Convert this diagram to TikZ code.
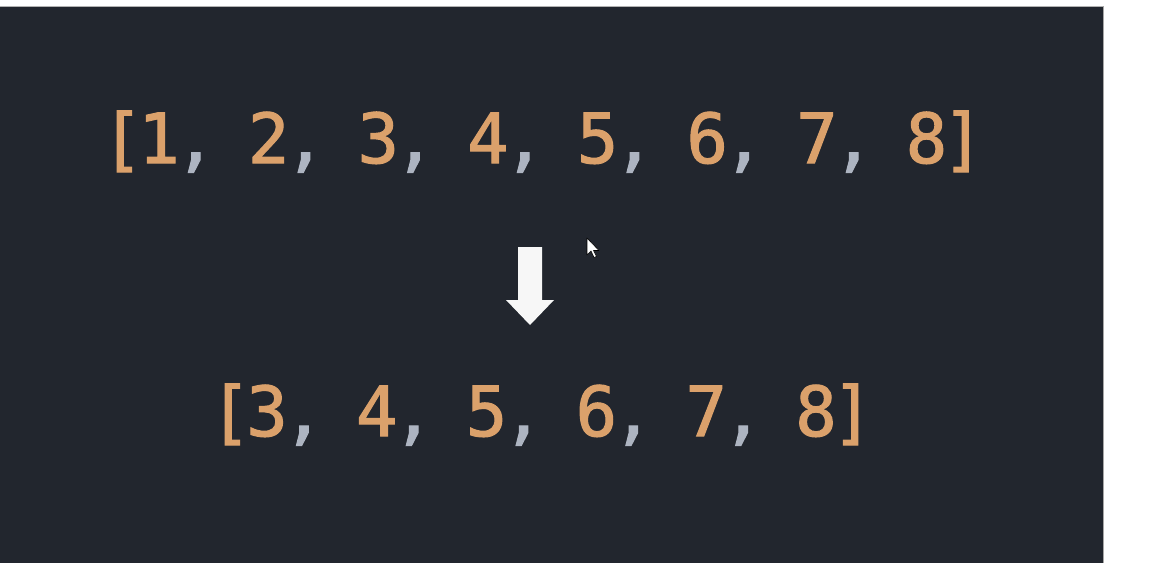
\documentclass[tikz,border=0pt]{standalone}
\usepackage{fontspec}
\newfontfamily\codemono[FakeBold=1.6]{DejaVu Sans Mono}
\definecolor{bgdark}{HTML}{22262E}
\definecolor{numorange}{HTML}{DBA16B}
\definecolor{punctgray}{HTML}{ADB4C1}
\definecolor{arrowwhite}{HTML}{F7F7F7}
\tikzset{
  glyph/.style={inner sep=0pt, outer sep=0pt, anchor=base, font=\codemono\fontsize{69}{72}\selectfont},
  num/.style={glyph, text=numorange},
  pun/.style={glyph, text=punctgray},
}
\begin{document}
\begin{tikzpicture}[x=1pt,y=-1pt]
\useasboundingbox (0,0) rectangle (1153,563);
\fill[white] (0,0) rectangle (1153,563);
\fill[bgdark] (0,6) rectangle (1103,563);
\draw[gray!70, line width=0.8pt] (1103,6) -- (1103,563);
\draw[gray!60, line width=0.6pt] (0,6) -- (1103,6);
% top list
\node[num] (t0) at (122.4,163) {[};
\node[num] (t1) at (159.0,163) {1};
\node[pun] (t2) at (195.5,163) {,};
\node[num] (t4) at (268.6,163) {2};
\node[pun] (t5) at (305.2,163) {,};
\node[num] (t7) at (378.3,163) {3};
\node[pun] (t8) at (414.8,163) {,};
\node[num] (t10) at (487.9,163) {4};
\node[pun] (t11) at (524.5,163) {,};
\node[num] (t13) at (597.6,163) {5};
\node[pun] (t14) at (634.1,163) {,};
\node[num] (t16) at (707.2,163) {6};
\node[pun] (t17) at (743.8,163) {,};
\node[num] (t19) at (816.9,163) {7};
\node[pun] (t20) at (853.4,163) {,};
\node[num] (t22) at (926.5,163) {8};
\node[num] (t23) at (963.1,163) {]};
% bottom list
\node[num] (b0) at (230.4,436) {[};
\node[num] (b1) at (267.0,436) {3};
\node[pun] (b2) at (303.6,436) {,};
\node[num] (b4) at (376.8,436) {4};
\node[pun] (b5) at (413.4,436) {,};
\node[num] (b7) at (486.6,436) {5};
\node[pun] (b8) at (523.2,436) {,};
\node[num] (b10) at (596.4,436) {6};
\node[pun] (b11) at (633.0,436) {,};
\node[num] (b13) at (706.2,436) {7};
\node[pun] (b14) at (742.8,436) {,};
\node[num] (b16) at (816.0,436) {8};
\node[num] (b17) at (852.6,436) {]};
% block arrow
\coordinate (arrowtop) at (530,247);
\coordinate (arrowtip) at (530,325);
\fill[arrowwhite] ([xshift=-12pt]arrowtop) -- ([xshift=12pt]arrowtop)
  -- ([xshift=12pt]arrowtip |- 0,300) -- ([xshift=24pt]arrowtip |- 0,300)
  -- (arrowtip) -- ([xshift=-24pt]arrowtip |- 0,300)
  -- ([xshift=-12pt]arrowtip |- 0,300) -- cycle;
% mouse cursor
\coordinate (cursor) at (587,238);
\filldraw[fill=white, draw=black, line width=0.6pt, line join=round]
  (cursor) -- ++(0,17) -- ++(4,-4) -- ++(3,6.5) -- ++(2.5,-1) -- ++(-3,-6) -- ++(5.5,0) -- cycle;
\end{tikzpicture}
\end{document}
